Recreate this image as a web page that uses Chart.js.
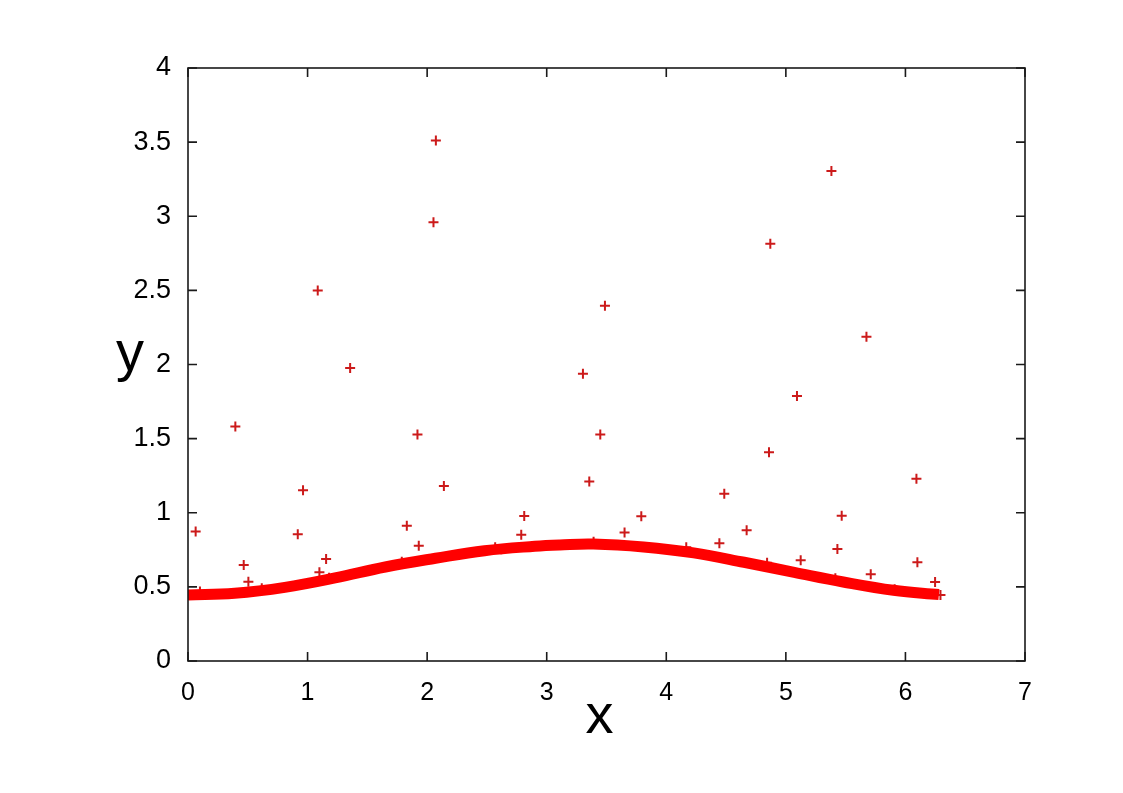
<!DOCTYPE html>
<html>
<head>
<meta charset="utf-8">
<script src="https://cdn.jsdelivr.net/npm/chart.js@4"></script>
<style>
  html, body { margin: 0; padding: 0; background: #fff; }
  #wrap { width: 1123px; height: 793px; }
</style>
</head>
<body>
<div id="wrap"><canvas id="myChart" width="1123" height="793"></canvas></div>
<script>
// smooth curve
const curveX = [0, 0.39, 0.81, 1.23, 1.65, 2.07, 2.48, 2.90, 3.11, 3.39, 3.81, 4.23, 4.65, 5.07, 5.48, 5.90, 6.28];
const curveY = [0.445, 0.457, 0.497, 0.56, 0.634, 0.693, 0.744, 0.774, 0.783, 0.789, 0.769, 0.729, 0.666, 0.598, 0.533, 0.477, 0.448];

// scattered samples (+ markers)
const sampleX = [0.064, 0.396, 0.466, 0.505, 0.918, 0.962, 1.085, 1.099, 1.155, 1.356, 1.830, 1.919, 1.930, 2.053, 2.073, 2.140,
  2.787, 2.812, 3.303, 3.356, 3.448, 3.487, 3.651, 3.791, 4.444, 4.485, 4.672, 4.859, 4.870, 5.093, 5.124, 5.381, 5.431, 5.467,
  5.674, 5.710, 6.092, 6.100, 6.248,
  0.0, 0.10, 0.617, 1.18, 1.788, 1.858, 2.569, 2.62, 3.392, 4.167, 4.843, 5.414, 5.91, 6.293];
const sampleY = [0.873, 1.581, 0.648, 0.535, 0.855, 1.152, 2.499, 0.598, 0.688, 1.977, 0.913, 1.527, 0.778, 2.960, 3.511, 1.181,
  0.852, 0.978, 1.937, 1.210, 1.527, 2.397, 0.866, 0.976, 0.794, 1.129, 0.882, 1.408, 2.814, 1.788, 0.679, 3.306, 0.756, 0.980,
  2.188, 0.585, 1.230, 0.666, 0.533,
  0.445, 0.468, 0.49, 0.562, 0.67, 0.661, 0.767, 0.754, 0.805, 0.767, 0.663, 0.558, 0.484, 0.445];

const xTicks = [0, 1, 2, 3, 4, 5, 6, 7];
const yTicks = [0, 0.5, 1, 1.5, 2, 2.5, 3, 3.5, 4];

const FONT = '"Liberation Sans", Arial, sans-serif';

// gnuplot-like frame with inward ticks on all four sides, plus the axis letters
const frame = {
  id: 'frame',
  afterDatasetsDraw(chart) {
    const { ctx, chartArea: a, scales } = chart;
    const tl = 9;
    ctx.save();
    ctx.strokeStyle = '#1a1a1a';
    ctx.lineWidth = 1.6;
    ctx.beginPath();
    xTicks.forEach(v => {
      const px = scales.x.getPixelForValue(v);
      ctx.moveTo(px, a.bottom); ctx.lineTo(px, a.bottom - tl);
      ctx.moveTo(px, a.top); ctx.lineTo(px, a.top + tl);
    });
    yTicks.forEach(v => {
      const py = scales.y.getPixelForValue(v);
      ctx.moveTo(a.left, py); ctx.lineTo(a.left + tl, py);
      ctx.moveTo(a.right, py); ctx.lineTo(a.right - tl, py);
    });
    ctx.stroke();
    ctx.strokeRect(a.left, a.top, a.right - a.left, a.bottom - a.top);

    ctx.fillStyle = '#000';
    ctx.font = '56px ' + FONT;
    ctx.textAlign = 'center';
    ctx.textBaseline = 'alphabetic';
    ctx.fillText('x', (a.left + a.right) / 2 - 7, a.bottom + 72);
    ctx.fillText('y', a.left - 58, scales.y.getPixelForValue(2) + 5);
    ctx.restore();
  }
};

const ctx = document.getElementById('myChart').getContext('2d');
new Chart(ctx, {
  type: 'scatter',
  data: {
    datasets: [
      {
        type: 'line',
        data: curveX.map((x, i) => ({ x, y: curveY[i] })),
        borderColor: '#ff0000',
        borderWidth: 11,
        pointRadius: 0,
        tension: 0.4,
        fill: false
      },
      {
        data: sampleX.map((x, i) => ({ x, y: sampleY[i] })),
        pointStyle: 'cross',
        pointRadius: 5,
        pointBorderWidth: 2,
        borderColor: '#cc1a1a',
        backgroundColor: '#cc1a1a'
      }
    ]
  },
  plugins: [frame],
  options: {
    responsive: false,
    animation: false,
    clip: true,
    layout: { padding: { top: 68, right: 98, left: 0, bottom: 0 } },
    plugins: { legend: { display: false }, tooltip: { enabled: false } },
    scales: {
      x: {
        type: 'linear',
        min: 0, max: 7,
        afterFit: s => { s.height = 132; },
        afterBuildTicks: s => { s.ticks = xTicks.map(v => ({ value: v })); },
        grid: { display: false, drawTicks: false },
        border: { display: false },
        ticks: { color: '#000', padding: 17, font: { family: FONT, size: 25 }, callback: v => String(v) }
      },
      y: {
        type: 'linear',
        min: 0, max: 4,
        afterFit: s => { s.width = 188; },
        afterBuildTicks: s => { s.ticks = yTicks.map(v => ({ value: v })); },
        grid: { display: false, drawTicks: false },
        border: { display: false },
        ticks: { color: '#000', padding: 17, font: { family: FONT, size: 27 }, callback: v => String(v) }
      }
    }
  }
});
</script>
</body>
</html>
